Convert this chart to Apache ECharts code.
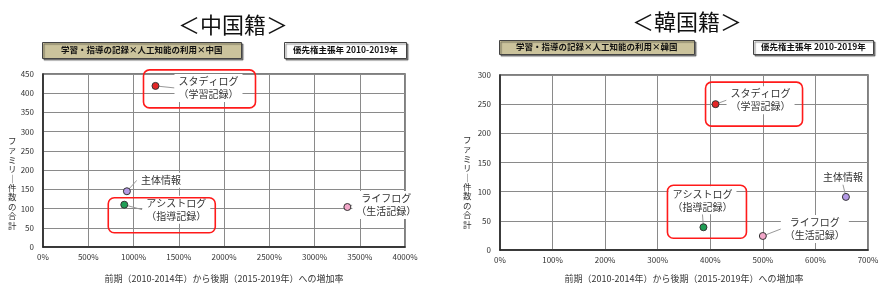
<!DOCTYPE html>
<html><head><meta charset="utf-8">
<script src="https://cdn.jsdelivr.net/npm/echarts@6/dist/echarts.min.js"></script>
<style>html,body{margin:0;padding:0;background:#fff}#c{width:885px;height:288px}</style>
</head><body><div id="c"></div>
<script>
// ---- data ----
const categories = ['スタディログ', '主体情報', 'アシストログ', 'ライフログ'];
const subNames = ['（学習記録）', '', '（指導記録）', '（生活記録）'];
const cnGrowth = [1243, 927, 898, 3363];
const cnFamilies = [419, 145, 110, 104];
const krGrowth = [410, 658, 387, 500];
const krFamilies = [250, 91, 39, 24];
const cnTitle = '＜中国籍＞';
const krTitle = '＜韓国籍＞';
const cnTheme = '学習・指導の記録×人工知能の利用×中国';
const krTheme = '学習・指導の記録×人工知能の利用×韓国';
const period = '優先権主張年 2010-2019年';
const xName = '前期（2010-2014年）から後期（2015-2019年）への増加率';
const yName = 'ファミリー件数の合計';

// ---- styles ----
const colors = ['#e32626', '#b49ae6', '#1f9e55', '#f2a7c9'];
const cnLabelOffsets = [[53, 2], [34, -11], [52, 5], [39, -2]];
const krLabelOffsets = [[45, -4], [-3, -20], [-1, -27], [52, -7]];
// red highlight frames: [seriesIndex, dataIndex, x0, y0, x1, y1] relative to point pixel
const frames = [[0, 0, -12, -16, 100, 22], [0, 2, -16, -7, 91, 28], [1, 0, -10, -22, 87, 22], [1, 2, -36, -42, 43, 11]];
const FONT = '"Noto Sans CJK JP", "Noto Sans", sans-serif';
const vName = yName.split('').map(c => c === 'ー' ? '｜' : c).join('\n');

function mkData(xs, ys) {
  return xs.map((x, i) => ({
    value: [x, ys[i]],
    name: categories[i] + (subNames[i] ? '\n' + subNames[i] : ''),
    itemStyle: { color: colors[i] }
  }));
}
function axisX(idx, max, interval, gap) {
  return {
    gridIndex: idx, type: 'value', min: 0, max: max, interval: interval,
    name: xName, nameLocation: 'middle', nameGap: gap,
    nameTextStyle: { fontSize: 9, color: '#333', fontFamily: FONT },
    axisLine: { show: true, lineStyle: { color: '#222', width: 1.5 } },
    axisTick: { show: false },
    axisLabel: { formatter: v => v + '%', fontSize: 8, color: '#333', margin: 6, fontFamily: FONT },
    splitLine: { show: true, lineStyle: { color: '#8a8a8a', width: 1 } }
  };
}
function axisY(idx, max, interval) {
  return {
    gridIndex: idx, type: 'value', min: 0, max: max, interval: interval,
    axisLine: { show: true, lineStyle: { color: '#222', width: 1.5 } },
    axisTick: { show: false },
    axisLabel: { fontSize: 8, color: '#333', margin: 9, fontFamily: FONT },
    splitLine: { show: true, lineStyle: { color: '#8a8a8a', width: 1 } }
  };
}
function mkSeries(idx, xs, ys, offs) {
  return {
    type: 'scatter', xAxisIndex: idx, yAxisIndex: idx,
    symbol: 'circle', symbolSize: 7,
    itemStyle: { borderColor: '#333', borderWidth: 1, opacity: 1 },
    data: mkData(xs, ys),
    label: {
      show: true, position: 'inside', formatter: '{b}',
      fontSize: 10, lineHeight: 13, color: '#333', fontFamily: FONT,
      backgroundColor: '#fff', padding: [1, 4], align: 'center', verticalAlign: 'middle'
    },
    labelLine: { show: true, lineStyle: { color: '#999', width: 1 } },
    labelLayout: function (p) { return { dx: offs[p.dataIndex][0], dy: offs[p.dataIndex][1] }; },
    emphasis: { disabled: true }
  };
}
function boxTitle(text, left, top, bg, pad) {
  return {
    text: text, left: left, top: top, padding: pad,
    backgroundColor: bg, borderColor: '#444', borderWidth: 1,
    shadowColor: 'rgba(0,0,0,0.45)', shadowBlur: 1, shadowOffsetX: 1.5, shadowOffsetY: 1.5,
    textStyle: { fontSize: 8.5, fontWeight: 'bold', color: '#111', fontFamily: FONT }
  };
}
function vTitle(left, top) {
  return {
    text: vName, left: left, top: top, padding: 0,
    textStyle: { fontSize: 8.5, lineHeight: 9.4, fontWeight: 'normal', color: '#333', fontFamily: FONT, align: 'center' }
  };
}

const chart = echarts.init(document.getElementById('c'), null, { renderer: 'canvas' });
chart.setOption({
  animation: false,
  title: [
    { text: cnTitle, left: 173, top: 9, textStyle: { fontSize: 22, fontWeight: 'normal', color: '#111', fontFamily: FONT } },
    { text: krTitle, left: 627, top: 6, textStyle: { fontSize: 22, fontWeight: 'normal', color: '#111', fontFamily: FONT } },
    boxTitle(cnTheme, 42, 42, '#cbc39c', [4, 19]),
    boxTitle(period, 284, 42, '#fff', [4, 9]),
    boxTitle(krTheme, 499, 40, '#cbc39c', [3, 17]),
    boxTitle(period, 753, 40, '#fff', [3, 8]),
    vTitle(8, 136),
    vTitle(463, 135)
  ],
  grid: [
    { left: 43, top: 74, width: 362, height: 177, show: true, borderColor: '#555', borderWidth: 1.5, backgroundColor: '#fff' },
    { left: 500, top: 75, width: 368, height: 175, show: true, borderColor: '#555', borderWidth: 1.5, backgroundColor: '#fff' }
  ],
  xAxis: [axisX(0, 4000, 500, 27), axisX(1, 700, 100, 24)],
  yAxis: [axisY(0, 450, 50), axisY(1, 300, 50)],
  series: [mkSeries(0, cnGrowth, cnFamilies, cnLabelOffsets), mkSeries(1, krGrowth, krFamilies, krLabelOffsets)]
});

const seriesData = [[cnGrowth, cnFamilies], [krGrowth, krFamilies]];
const gfx = frames.map(f => {
  const d = seriesData[f[0]];
  const p = chart.convertToPixel({ seriesIndex: f[0] }, [d[0][f[1]], d[1][f[1]]]);
  return {
    type: 'rect', z: 100, silent: true,
    shape: { x: p[0] + f[2], y: p[1] + f[3], width: f[4] - f[2], height: f[5] - f[3], r: 6 },
    style: { fill: 'none', stroke: '#ff1a1a', lineWidth: 1.6 }
  };
});
chart.setOption({ graphic: gfx });
</script></body></html>
